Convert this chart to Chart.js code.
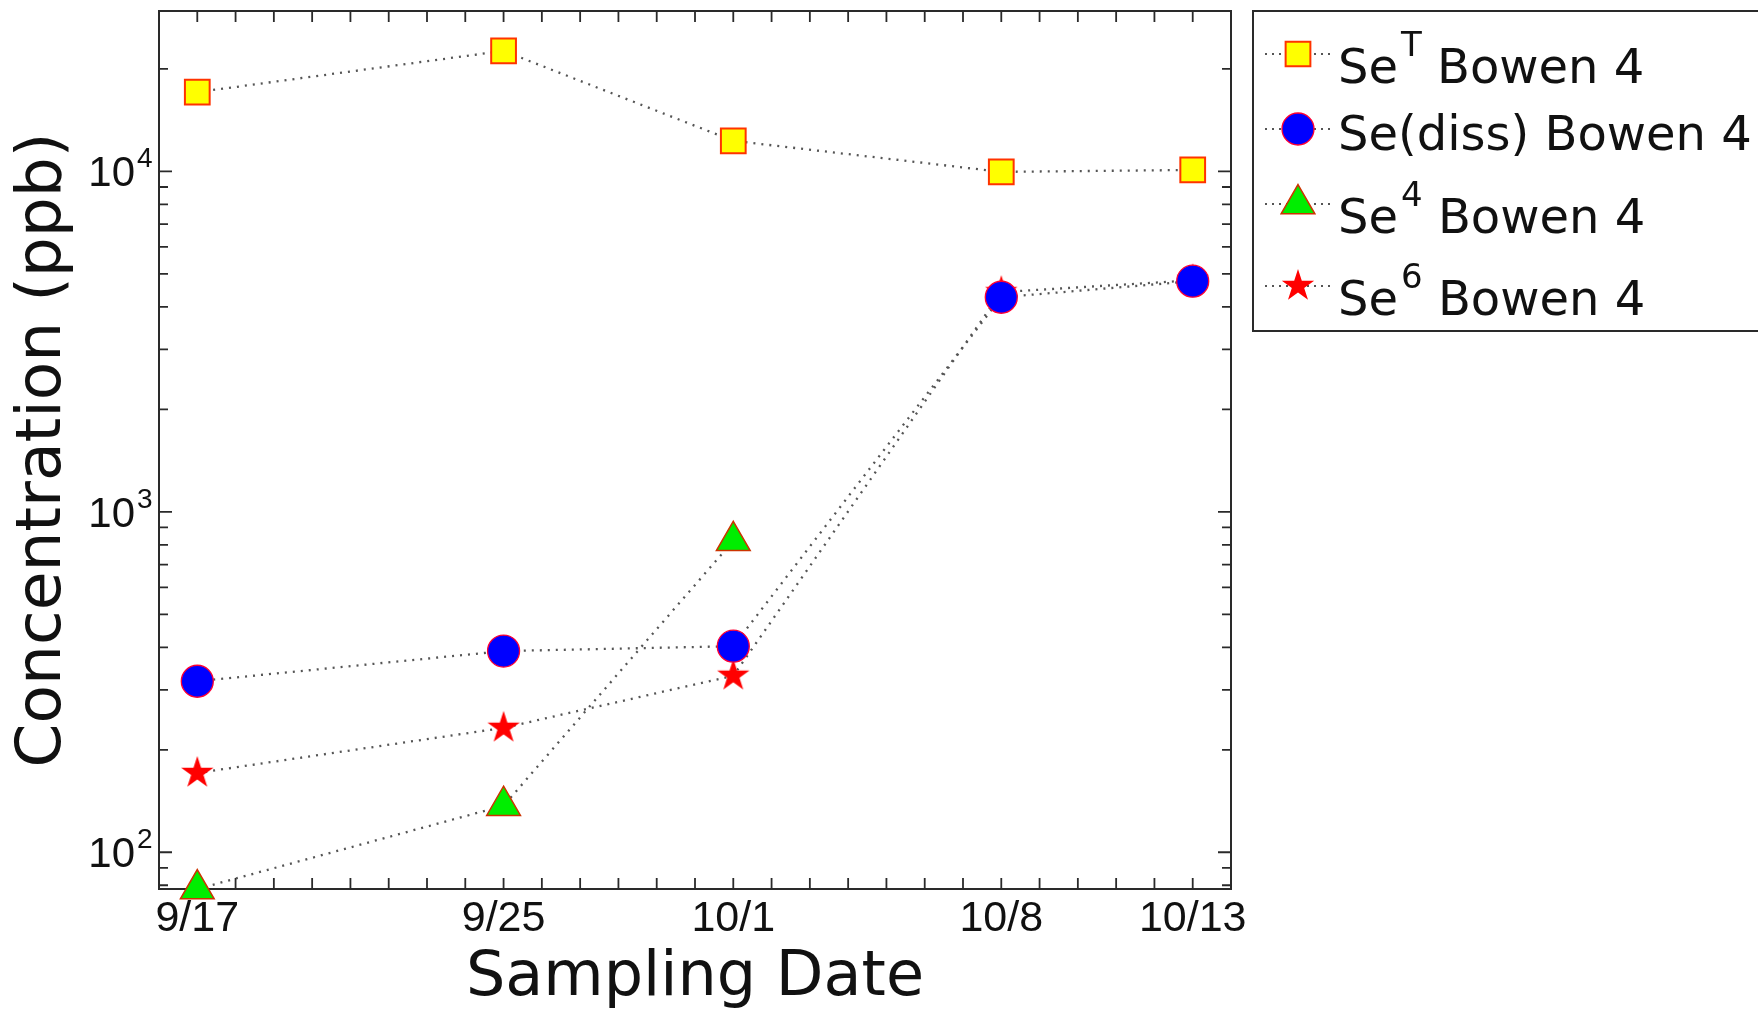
<!DOCTYPE html>
<html>
<head>
<meta charset="utf-8">
<script src="https://cdn.jsdelivr.net/npm/chart.js@4/dist/chart.umd.min.js"></script>
<style>
  html, body { margin: 0; padding: 0; background: #fff; }
  canvas { display: block; }
</style>
</head>
<body>
<canvas id="seChart" width="1758" height="1013"></canvas>
<script>
// sampling days, counted from 9/17
const sampleDays = [0, 8, 14, 21, 26];
const dateLabels = ['9/17', '9/25', '10/1', '10/8', '10/13'];

// concentrations (ppb)
const seTotal = [17100, 22600, 12300, 9970, 10100];
const seDiss  = [318, 390, 403, 4270, 4760];
const se4     = [78, 137, 822, null, null];
const se6     = [171, 232, 330, 4420, 4790];

// legend text: base name, superscript, site
const seriesNames = ['Se', 'Se(diss)', 'Se', 'Se'];
const seriesSup   = ['T', '', '4', '6'];
const siteName = 'Bowen 4';

// labelled decades on the y axis
const yMajor = [100, 1000, 10000];
const yExp   = ['2', '3', '4'];

const pts = arr => sampleDays.map((d, i) => ({ x: d, y: arr[i] }));

// filled five point star (Chart.js only has the line asterisk)
function makeStar(R, color) {
    const s = Math.ceil(2 * R + 4);
    const c = document.createElement('canvas');
    c.width = s; c.height = s;
    const g = c.getContext('2d');
    g.translate(s / 2, s / 2);
    g.beginPath();
    for (let i = 0; i < 10; i++) {
        const r = i % 2 ? R * 0.382 : R;
        const a = -Math.PI / 2 + i * Math.PI / 5;
        g.lineTo(r * Math.cos(a), r * Math.sin(a));
    }
    g.closePath();
    g.fillStyle = color;
    g.fill();
    return c;
}
const starImg = makeStar(17, '#ff0000');

const lineStyle = {
    borderColor: '#555',
    borderWidth: 2.3,
    borderDash: [2, 6],
    tension: 0,
    clip: false,
    spanGaps: false
};

const datasets = [
    Object.assign({ data: pts(seTotal), pointStyle: 'rect', pointRadius: 17.5,
        pointBackgroundColor: '#ffff00', pointBorderColor: '#ff3300', pointBorderWidth: 2 }, lineStyle),
    Object.assign({ data: pts(seDiss), pointStyle: 'circle', pointRadius: 16,
        pointBackgroundColor: '#0000ff', pointBorderColor: '#ff0033', pointBorderWidth: 1.3 }, lineStyle),
    Object.assign({ data: pts(se4), pointStyle: 'triangle', pointRadius: 19.5,
        pointBackgroundColor: '#00ee00', pointBorderColor: '#cc3300', pointBorderWidth: 1.5 }, lineStyle),
    Object.assign({ data: pts(se6), pointStyle: starImg, pointRadius: 17,
        pointBackgroundColor: '#ff0000', pointBorderColor: '#ff0000', pointBorderWidth: 0 }, lineStyle)
];

// frame with inward ticks on all four sides, like the original figure
const framePlugin = {
    id: 'frame',
    beforeDatasetsDraw(chart) {
        const { ctx, chartArea: a } = chart;
        const xs = chart.scales.x, ys = chart.scales.y;
        ctx.save();
        ctx.strokeStyle = '#2a2a2a';
        ctx.lineWidth = 2;
        ctx.strokeRect(a.left, a.top, a.right - a.left, a.bottom - a.top);
        ctx.lineWidth = 1.8;
        ctx.beginPath();
        for (let d = Math.ceil(xs.min); d <= xs.max; d++) {
            const px = xs.getPixelForValue(d);
            ctx.moveTo(px, a.bottom); ctx.lineTo(px, a.bottom - 11);
            ctx.moveTo(px, a.top); ctx.lineTo(px, a.top + 11);
        }
        for (let n = 1; n <= 4; n++) {
            for (let m = 1; m <= 9; m++) {
                const v = m * Math.pow(10, n);
                if (v < ys.min || v > ys.max) continue;
                const py = ys.getPixelForValue(v);
                const len = m === 1 ? 13 : 9;
                ctx.moveTo(a.left, py); ctx.lineTo(a.left + len, py);
                ctx.moveTo(a.right, py); ctx.lineTo(a.right - len, py);
            }
        }
        ctx.stroke();
        ctx.restore();
    },
    afterDraw(chart) {
        const { ctx, chartArea: a } = chart;
        const ys = chart.scales.y;
        ctx.save();
        ctx.fillStyle = '#111';
        // y tick labels as 10 with a raised exponent
        yMajor.forEach((v, i) => {
            const py = ys.getPixelForValue(v);
            ctx.font = '42px "Liberation Sans"';
            ctx.textAlign = 'right';
            ctx.fillText('10', a.left - 24, py + 15);
            ctx.font = '28px "Liberation Sans"';
            ctx.textAlign = 'left';
            ctx.fillText(yExp[i], a.left - 22, py - 4);
        });

        // legend box, right edge runs off the picture
        ctx.strokeStyle = '#2a2a2a';
        ctx.lineWidth = 2;
        ctx.strokeRect(1253, 11, 560, 320);
        const markerY = [54, 129, 204, 286];
        const baseY = [83, 150, 233, 315];
        chart.data.datasets.forEach((ds, i) => {
            const my = markerY[i];
            ctx.save();
            ctx.strokeStyle = ds.borderColor;
            ctx.lineWidth = 2;
            ctx.setLineDash([2, 5]);
            ctx.beginPath();
            ctx.moveTo(1265, my); ctx.lineTo(1333, my);
            ctx.stroke();
            ctx.restore();
            ctx.save();
            ctx.fillStyle = ds.pointBackgroundColor;
            ctx.strokeStyle = ds.pointBorderColor;
            ctx.lineWidth = ds.pointBorderWidth;
            Chart.helpers.drawPoint(ctx, {
                pointStyle: ds.pointStyle, radius: ds.pointRadius,
                rotation: 0, borderWidth: ds.pointBorderWidth
            }, 1298, my);
            ctx.restore();

            let x = 1338;
            ctx.textAlign = 'left';
            ctx.font = '48px "DejaVu Sans"';
            ctx.fillText(seriesNames[i], x, baseY[i]);
            x += ctx.measureText(seriesNames[i]).width;
            if (seriesSup[i]) {
                ctx.font = '34px "DejaVu Sans"';
                ctx.fillText(seriesSup[i], x + 3, baseY[i] - 27);
                x += ctx.measureText(seriesSup[i]).width + 3;
            }
            ctx.font = '48px "DejaVu Sans"';
            ctx.fillText(' ' + siteName, x, baseY[i]);
        });
        ctx.restore();
    }
};

new Chart(document.getElementById('seChart'), {
    type: 'line',
    data: { datasets: datasets },
    options: {
        responsive: false,
        animation: false,
        events: [],
        layout: { autoPadding: false, padding: { left: 0, top: 11, right: 527, bottom: 0 } },
        plugins: {
            legend: { display: false },
            tooltip: { enabled: false }
        },
        scales: {
            x: {
                type: 'linear',
                min: -1,
                max: 27,
                grid: { display: false, drawTicks: false },
                border: { display: false },
                ticks: {
                    stepSize: 1,
                    autoSkip: false,
                    maxRotation: 0,
                    padding: 4,
                    color: '#111',
                    font: { family: 'Liberation Sans', size: 43 },
                    callback: v => {
                        const i = sampleDays.indexOf(v);
                        return i >= 0 ? dateLabels[i] : '';
                    }
                },
                title: {
                    display: true,
                    text: 'Sampling Date',
                    color: '#111',
                    font: { family: 'DejaVu Sans', size: 62, lineHeight: 1 },
                    padding: { top: 0, bottom: 3 }
                },
                afterFit: s => { s.height = 124; }
            },
            y: {
                type: 'logarithmic',
                min: 78,
                max: 29600,
                grid: { display: false, drawTicks: false },
                border: { display: false },
                ticks: { display: false },
                title: {
                    display: true,
                    text: 'Concentration (ppb)',
                    color: '#111',
                    font: { family: 'DejaVu Sans', size: 63, lineHeight: 1 },
                    padding: { top: 12, bottom: 0 }
                },
                afterFit: s => { s.width = 159; }
            }
        }
    },
    plugins: [framePlugin]
});
</script>
</body>
</html>
